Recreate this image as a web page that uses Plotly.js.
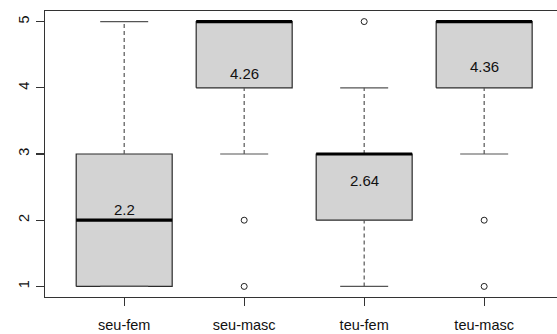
<!DOCTYPE html>
<html>
<head>
<meta charset="utf-8">
<script src="https://cdn.plot.ly/plotly-3.0.1.min.js"></script>
<style>html,body{margin:0;padding:0;background:#fff;}#chart{width:557px;height:334px;}</style>
</head>
<body>
<div id="chart"></div>
<script>
var categories = ['seu-fem', 'seu-masc', 'teu-fem', 'teu-masc'];
var q1 = [1, 4, 2, 4];
var medians = [2, 5, 3, 5];
var q3 = [3, 5, 3, 5];
var lowerWhisker = [1, 3, 1, 3];
var upperWhisker = [5, 5, 4, 5];
var means = [2.2, 4.26, 2.64, 4.36];
var meanLabels = ['2.2', '4.26', '2.64', '4.36'];
var outlierCategory = ['seu-masc', 'seu-masc', 'teu-fem', 'teu-masc', 'teu-masc'];
var outlierValues = [2, 1, 5, 2, 1];
var yTicks = [1, 2, 3, 4, 5];

var HALF = 0.4, CAP = 0.2;
var pos = categories.map(function (c, i) { return i + 1; });
var FONT = 'Liberation Sans, Arial, sans-serif';

var bx = [], by = [], wx = [], wy = [], cx = [], cy = [], mx = [], my = [];
pos.forEach(function (p, i) {
  bx.push(p - HALF, p + HALF, p + HALF, p - HALF, p - HALF, null);
  by.push(q1[i], q1[i], q3[i], q3[i], q1[i], null);
  wx.push(p, p, null, p, p, null);
  wy.push(q3[i], upperWhisker[i], null, lowerWhisker[i], q1[i], null);
  cx.push(p - CAP, p + CAP, null, p - CAP, p + CAP, null);
  cy.push(upperWhisker[i], upperWhisker[i], null, lowerWhisker[i], lowerWhisker[i], null);
  mx.push(p - HALF, p + HALF, null);
  my.push(medians[i], medians[i], null);
});

var traces = [
  {x: bx, y: by, mode: 'lines', fill: 'toself', fillcolor: '#d3d3d3',
   line: {color: '#2b2b2b', width: 1.2}, hoverinfo: 'skip'},
  {x: wx, y: wy, mode: 'lines', line: {color: '#555', width: 1.2, dash: '4px,3px'}, hoverinfo: 'skip'},
  {x: cx, y: cy, mode: 'lines', line: {color: '#555', width: 1.2}, hoverinfo: 'skip'},
  {x: mx, y: my, mode: 'lines', line: {color: '#000', width: 3.2}, hoverinfo: 'skip'},
  {x: outlierCategory.map(function (c) { return categories.indexOf(c) + 1; }), y: outlierValues,
   mode: 'markers', marker: {symbol: 'circle-open', size: 6, color: '#222', line: {width: 1}}, hoverinfo: 'skip'}
];

var annotations = pos.map(function (p, i) {
  return {x: p, y: means[i], xref: 'x', yref: 'y', text: meanLabels[i], showarrow: false,
          yshift: -3, font: {family: FONT, size: 15, color: '#111'}};
});

var layout = {
  width: 557, height: 334,
  margin: {l: 45, r: 0, t: 11, b: 37},
  paper_bgcolor: '#fff', plot_bgcolor: '#fff',
  showlegend: false, hovermode: false,
  annotations: annotations,
  xaxis: {
    range: [0.34, 4.607], tickmode: 'array', tickvals: pos, ticktext: categories,
    showgrid: false, zeroline: false, showline: true, mirror: true, linecolor: '#333', linewidth: 1.2,
    ticks: 'outside', ticklen: 8, tickwidth: 1.2, tickcolor: '#333',
    tickfont: {family: FONT, size: 14.5, color: '#111'}, ticklabelstandoff: 6
  },
  yaxis: {
    range: [0.84, 5.16], tickmode: 'array', tickvals: yTicks, ticktext: yTicks.map(String),
    showgrid: false, zeroline: false, showline: true, linecolor: '#333', linewidth: 1.2,
    ticks: 'outside', ticklen: 8, tickwidth: 1.2, tickcolor: '#333', tickangle: -90,
    tickfont: {family: FONT, size: 14.5, color: '#111'}, ticklabelstandoff: 1
  }
};

Plotly.newPlot('chart', traces, layout, {staticPlot: true, displayModeBar: false});
</script>
</body>
</html>
